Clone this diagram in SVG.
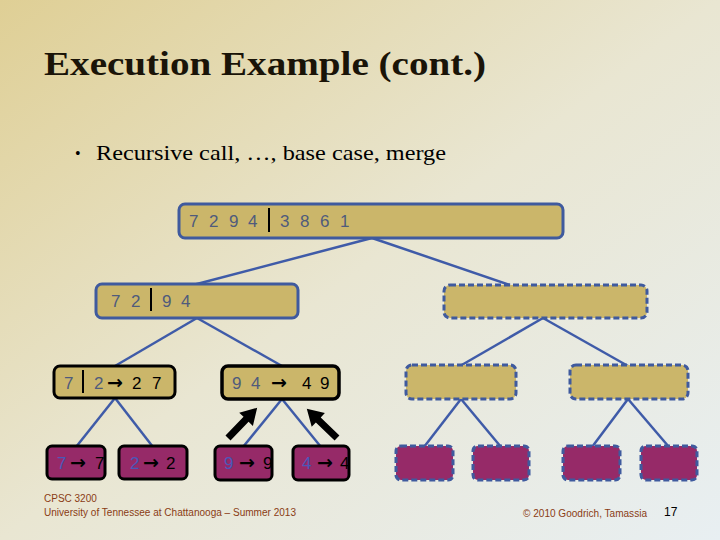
<svg xmlns="http://www.w3.org/2000/svg" width="720" height="540" viewBox="0 0 720 540">
<defs>
<linearGradient id="bg" x1="0" y1="0" x2="1" y2="1">
<stop offset="0" stop-color="#dfcf95"/>
<stop offset="0.5" stop-color="#e9e6d2"/>
<stop offset="1" stop-color="#e8eff2"/>
</linearGradient>
<polygon id="bigArrow" points="0,-3.5 26,-3.5 26,-9.5 42,0 26,9.5 26,3.5 0,3.5" fill="#000"/>
<style>
.gold{fill:#cbb66a}
.purple{fill:#962a68}
.solidB{stroke:#3f5a9e;stroke-width:3;}
.dashB{stroke:#3f5a9e;stroke-width:3;stroke-dasharray:6 3;}
.blackB{stroke:#000;stroke-width:3;}
.conn line{stroke:#3f5ba8;stroke-width:2.5;}
.num{font-family:"Liberation Sans",Arial,sans-serif;font-size:17px;fill:#4f5b7c}
.blk{font-family:"Liberation Sans",Arial,sans-serif;font-size:17px;fill:#000}
.arr{font-family:"DejaVu Sans",sans-serif;font-weight:bold;font-size:19px;fill:#000}
.lf{font-family:"Liberation Sans",Arial,sans-serif;font-size:17px;fill:#4a58b8}
.bar{stroke:#000;stroke-width:2}
.foot{font-family:"Liberation Sans",Arial,sans-serif;font-size:10px;fill:#8a3c14}
</style>
</defs>
<rect x="0" y="0" width="720" height="540" fill="url(#bg)"/>
<text x="44" y="75" font-family="'Liberation Serif','DejaVu Serif',serif" font-weight="bold" font-size="34" fill="#1a1408" textLength="442" lengthAdjust="spacingAndGlyphs">Execution Example (cont.)</text>
<text x="75" y="159" font-family="'Liberation Serif',serif" font-size="16" fill="#000">•</text>
<text x="96" y="160" font-family="'Liberation Serif',serif" font-size="21" fill="#000" textLength="350" lengthAdjust="spacingAndGlyphs">Recursive call, …, base case, merge</text>

<g id="connectors" class="conn">
<line x1="372" y1="238" x2="193" y2="285"/>
<line x1="372" y1="238" x2="510" y2="285"/>
<line x1="197" y1="318" x2="115" y2="366"/>
<line x1="197" y1="318" x2="282" y2="366"/>
<line x1="543" y1="318" x2="460" y2="366"/>
<line x1="543" y1="318" x2="628" y2="366"/>
<line x1="115" y1="398" x2="76" y2="447"/>
<line x1="115" y1="398" x2="153" y2="447"/>
<line x1="282" y1="399" x2="243" y2="447"/>
<line x1="282" y1="399" x2="321" y2="447"/>
<line x1="461" y1="399" x2="424" y2="447"/>
<line x1="461" y1="399" x2="501" y2="447"/>
<line x1="628" y1="399" x2="592" y2="447"/>
<line x1="628" y1="399" x2="669" y2="447"/>
</g>

<g id="n-root">
<rect x="179" y="204" width="384" height="34" rx="6" class="gold solidB"/>
<text class="num" x="189 209 229 248 280 300 320 340" y="227">72943861</text>
<line class="bar" x1="269" y1="208" x2="269" y2="232"/>
</g>

<g id="n-l">
<rect x="96" y="284" width="202" height="34" rx="6" class="gold solidB"/>
<text class="num" x="111 131 162 181" y="307">7294</text>
<line class="bar" x1="151" y1="288" x2="151" y2="311"/>
</g>

<g id="n-r">
<rect x="444" y="285" width="203" height="33" rx="6" class="gold dashB"/>
</g>

<g id="n-ll">
<rect x="54" y="366" width="121" height="32" rx="6" class="gold blackB"/>
<text class="num" x="64" y="389">7</text>
<line class="bar" x1="83" y1="370" x2="83" y2="393"/>
<text class="num" x="94" y="389">2</text>
<text class="arr" x="107" y="389">→</text>
<text class="blk" x="132 152" y="389">27</text>
</g>

<g id="n-lr">
<rect x="222" y="366" width="117" height="33" rx="6" fill="#cbb66a" stroke="#000" stroke-width="3.5"/>
<text class="num" x="232 251" y="389">94</text>
<text class="arr" x="271" y="389">→</text>
<text class="blk" x="302 320" y="389">49</text>
</g>

<g id="n-rl">
<rect x="406" y="365" width="110" height="34" rx="6" class="gold dashB"/>
</g>
<g id="n-rr">
<rect x="570" y="365" width="118" height="34" rx="6" class="gold dashB"/>
</g>

<g id="leaf-7">
<rect x="47" y="446" width="58" height="33" rx="5" class="purple"/>
<text class="lf" x="57" y="469">7</text>
<text class="arr" x="70" y="469">→</text>
<text class="blk" x="95" y="469">7</text>
<rect x="47" y="446" width="58" height="33" rx="5" fill="none" class="blackB"/>
</g>
<g id="leaf-2">
<rect x="119" y="446" width="68" height="33" rx="5" class="purple"/>
<text class="lf" x="130" y="469">2</text>
<text class="arr" x="143" y="469">→</text>
<text class="blk" x="166" y="469">2</text>
<rect x="119" y="446" width="68" height="33" rx="5" fill="none" class="blackB"/>
</g>
<g id="leaf-9">
<rect x="215" y="446" width="57" height="34" rx="5" class="purple"/>
<text class="lf" x="224" y="469">9</text>
<text class="arr" x="239" y="469">→</text>
<text class="blk" x="263" y="469">9</text>
<rect x="215" y="446" width="57" height="34" rx="5" fill="none" class="blackB"/>
</g>
<g id="leaf-4">
<rect x="293" y="446" width="56" height="34" rx="5" class="purple"/>
<text class="lf" x="302" y="469">4</text>
<text class="arr" x="317" y="469">→</text>
<text class="blk" x="340" y="469">4</text>
<rect x="293" y="446" width="56" height="34" rx="5" fill="none" class="blackB"/>
</g>

<g id="leaf-e1"><rect x="396" y="446" width="57" height="34" rx="5" class="purple dashB"/></g>
<g id="leaf-e2"><rect x="473" y="446" width="56" height="34" rx="5" class="purple dashB"/></g>
<g id="leaf-e3"><rect x="563" y="446" width="57" height="34" rx="5" class="purple dashB"/></g>
<g id="leaf-e4"><rect x="641" y="446" width="56" height="34" rx="5" class="purple dashB"/></g>

<g id="merge-arrows">
<use href="#bigArrow" transform="translate(228,438) rotate(-46)"/>
<use href="#bigArrow" transform="translate(337,438) rotate(-136)"/>
</g>

<text class="foot" x="44" y="502">CPSC 3200</text>
<text class="foot" x="44" y="516" textLength="252" lengthAdjust="spacingAndGlyphs">University of Tennessee at Chattanooga – Summer 2013</text>
<text class="foot" x="523" y="517" textLength="124" lengthAdjust="spacingAndGlyphs">© 2010 Goodrich, Tamassia</text>
<text x="664" y="516" font-family="'Liberation Sans',Arial,sans-serif" font-size="12" fill="#000">17</text>
</svg>
